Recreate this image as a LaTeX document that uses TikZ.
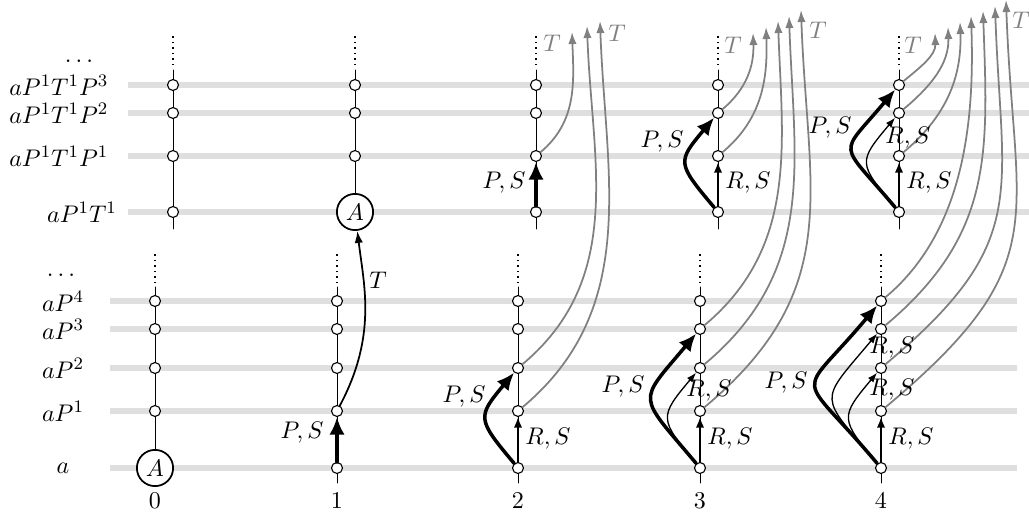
\documentclass[tikz,border=0pt]{standalone}
\usepackage{amsmath,amssymb}
\usetikzlibrary{arrows.meta}

\begin{document}
\begin{tikzpicture}[x=0.016cm,y=0.016cm,line cap=round,font=\fontsize{10.95}{13.6}\selectfont,
  band/.style={gray!25,line width=2.3pt,line cap=butt},
  col/.style={line width=0.45pt},
  dots/.style={dotted,line width=0.5pt,line cap=butt},
  pt/.style={circle,draw,fill=white,inner sep=0pt,minimum size=5pt,line width=0.5pt},
  anode/.style={circle,draw,fill=white,inner sep=0pt,minimum size=16.5pt,line width=0.8pt},
  ps/.style={line width=1.6pt,-{Latex[length=8pt,width=7pt]}},
  rs/.style={line width=0.8pt,-{Latex[length=4.8pt,width=3.8pt]}},
  rsc/.style={line width=0.6pt,-{Latex[length=4.5pt,width=3.2pt]}},
  tc/.style={line width=0.8pt,-{Latex[length=5.5pt,width=3.8pt]}},
  tt/.style={gray,line width=0.8pt,-{Latex[length=5.5pt,width=3.8pt]}},
  tl/.style={gray}]
\useasboundingbox (0,0) rectangle (1029,517);
% rows
\draw[band] (110,49) -- (1017,49);
\draw[band] (110,106) -- (1017,106);
\draw[band] (110,149) -- (1017,149);
\draw[band] (110,188) -- (1017,188);
\draw[band] (110,216) -- (1017,216);
\draw[band] (128,305) -- (1029,305);
\draw[band] (128,361) -- (1029,361);
\draw[band] (128,404) -- (1029,404);
\draw[band] (128,432) -- (1029,432);
% columns
\draw[col] (155,34) -- (155,230); \draw[dots] (155,234) -- (155,265);
\draw[col] (337,34) -- (337,230); \draw[dots] (337,234) -- (337,265);
\draw[col] (518,34) -- (518,230); \draw[dots] (518,234) -- (518,265);
\draw[col] (700,34) -- (700,230); \draw[dots] (700,234) -- (700,265);
\draw[col] (881,34) -- (881,230); \draw[dots] (881,234) -- (881,265);
\draw[col] (173,288) -- (173,447); \draw[dots] (173,452) -- (173,481);
\draw[col] (355,288) -- (355,447); \draw[dots] (355,452) -- (355,481);
\draw[col] (536,288) -- (536,447); \draw[dots] (536,452) -- (536,481);
\draw[col] (718,288) -- (718,447); \draw[dots] (718,452) -- (718,481);
\draw[col] (899,288) -- (899,447); \draw[dots] (899,452) -- (899,481);
% row and column labels
\node (la) at (63,49) {$a$};
\node (lp1) at (63,106) {$aP^1$};
\node (lp2) at (63,149) {$aP^2$};
\node (lp3) at (63,188) {$aP^3$};
\node (lp4) at (63,216) {$aP^4$};
\node (ld) at (63,242) {$\dots$};
\node (lt) at (82,305) {$aP^1T^1$};
\node[anchor=east] (ltp1) at (116,361) {$aP^1T^1P^1$};
\node[anchor=east] (ltp2) at (116,404) {$aP^1T^1P^2$};
\node[anchor=east] (ltp3) at (116,432) {$aP^1T^1P^3$};
\node (ltd) at (81,456) {$\dots$};
\node (n0) at (155,16) {$0$};
\node (n1) at (337,16) {$1$};
\node (n2) at (518,16) {$2$};
\node (n3) at (700,16) {$3$};
\node (n4) at (881,16) {$4$};
% bottom states
\node[anode] (b00) at (155,49) {$A$};
\node[pt] (b01) at (155,106) {}; \node[pt] (b02) at (155,149) {};
\node[pt] (b03) at (155,188) {}; \node[pt] (b04) at (155,216) {};
\node[pt] (b10) at (337,49) {}; \node[pt] (b11) at (337,106) {}; \node[pt] (b12) at (337,149) {};
\node[pt] (b13) at (337,188) {}; \node[pt] (b14) at (337,216) {};
\node[pt] (b20) at (518,49) {}; \node[pt] (b21) at (518,106) {}; \node[pt] (b22) at (518,149) {};
\node[pt] (b23) at (518,188) {}; \node[pt] (b24) at (518,216) {};
\node[pt] (b30) at (700,49) {}; \node[pt] (b31) at (700,106) {}; \node[pt] (b32) at (700,149) {};
\node[pt] (b33) at (700,188) {}; \node[pt] (b34) at (700,216) {};
\node[pt] (b40) at (881,49) {}; \node[pt] (b41) at (881,106) {}; \node[pt] (b42) at (881,149) {};
\node[pt] (b43) at (881,188) {}; \node[pt] (b44) at (881,216) {};
% top states
\node[pt] (t00) at (173,305) {}; \node[pt] (t01) at (173,361) {};
\node[pt] (t02) at (173,404) {}; \node[pt] (t03) at (173,432) {};
\node[anode] (t10) at (355,305) {$A$}; \node[pt] (t11) at (355,361) {};
\node[pt] (t12) at (355,404) {}; \node[pt] (t13) at (355,432) {};
\node[pt] (t20) at (536,305) {}; \node[pt] (t21) at (536,361) {};
\node[pt] (t22) at (536,404) {}; \node[pt] (t23) at (536,432) {};
\node[pt] (t30) at (718,305) {}; \node[pt] (t31) at (718,361) {};
\node[pt] (t32) at (718,404) {}; \node[pt] (t33) at (718,432) {};
\node[pt] (t40) at (899,305) {}; \node[pt] (t41) at (899,361) {};
\node[pt] (t42) at (899,404) {}; \node[pt] (t43) at (899,432) {};
% T ends
\coordinate (g20) at (572,485); \coordinate (g21) at (587,491); \coordinate (g22) at (600,496);
\coordinate (g30) at (753,484); \coordinate (g31) at (766,490); \coordinate (g32) at (778,496);
\coordinate (g33) at (789,501); \coordinate (g34) at (801,507);
\coordinate (g40) at (935,484); \coordinate (g41) at (948,490); \coordinate (g42) at (960,495);
\coordinate (g43) at (971,501); \coordinate (g44) at (983,506); \coordinate (g45) at (995,511);
\coordinate (g46) at (1006,517);
% step 1
\draw[ps] (b10) -- (b11);
\draw[tc] (b11) .. controls +(62:85) and +(-83:75) .. (t10);
\node (ps1) at (302,84) {$P,S$};
\node (tl1) at (378,237) {$T$};
% step 2
\draw[rs] (b20) -- (b21);
\draw[ps] (b20) .. controls +(130:64) and +(-130:64) .. (b22);
\draw[ps] (t20) -- (t21);
\draw[tt] (t21) to[out=40,in=-88] (g20);
\draw[tt] (b22) to[out=40,in=-88] (g21);
\draw[tt] (b21) to[out=40,in=-88] (g22);
\node (rs2) at (548,78) {$R,S$};
\node (ps2) at (464,120) {$P,S$};
\node (ps2t) at (504,334) {$P,S$};
\node[tl] (tl2a) at (552,474) {$T$};
\node[tl] (tl2b) at (617,484) {$T$};
% step 3
\draw[rs] (b30) -- (b31);
\draw[rsc] (b30) .. controls +(130:64) and +(-130:64) .. (b32);
\draw[ps] (b30) .. controls +(130:98) and +(-130:98) .. (b33);
\draw[rs] (t30) -- (t31);
\draw[ps] (t30) .. controls +(130:64) and +(-130:64) .. (t32);
\draw[tt] (t32) to[out=40,in=-88] (g30);
\draw[tt] (t31) to[out=40,in=-88] (g31);
\draw[tt] (b33) to[out=40,in=-88] (g32);
\draw[tt] (b32) to[out=40,in=-88,looseness=1.05] (g33);
\draw[tt] (b31) to[out=40,in=-88,looseness=1.15] (g34);
\node (rs3) at (730,78) {$R,S$};
\node (rs3b) at (709,126) {$R,S$};
\node (ps3) at (623,130) {$P,S$};
\node (rs3t) at (748,334) {$R,S$};
\node (ps3t) at (662,375) {$P,S$};
\node[tl] (tl3a) at (733,472) {$T$};
\node[tl] (tl3b) at (818,487) {$T$};
% step 4
\draw[rs] (b40) -- (b41);
\draw[rsc] (b40) .. controls +(130:64) and +(-130:64) .. (b42);
\draw[rsc] (b40) .. controls +(130:98) and +(-130:98) .. (b43);
\draw[ps] (b40) .. controls +(130:133) and +(-130:133) .. (b44);
\draw[rs] (t40) -- (t41);
\draw[rsc] (t40) .. controls +(130:64) and +(-130:64) .. (t42);
\draw[ps] (t40) .. controls +(130:95) and +(-130:95) .. (t43);
\draw[tt] (t43) to[out=40,in=-88] (g40);
\draw[tt] (t42) to[out=40,in=-88] (g41);
\draw[tt] (t41) to[out=40,in=-88] (g42);
\draw[tt] (b44) to[out=40,in=-88,looseness=0.9] (g43);
\draw[tt] (b43) to[out=40,in=-88,looseness=1.1] (g44);
\draw[tt] (b42) to[out=40,in=-88,looseness=1.3] (g45);
\draw[tt] (b41) to[out=40,in=-88,looseness=1.35] (g46);
\node (rs4) at (911,78) {$R,S$};
\node (rs4b) at (892,127) {$R,S$};
\node (rs4c) at (892,169) {$R,S$};
\node (ps4) at (786,134) {$P,S$};
\node (rs4t) at (929,334) {$R,S$};
\node (rs4tb) at (908,379) {$R,S$};
\node (ps4t) at (830,389) {$P,S$};
\node[tl] (tl4a) at (913,472) {$T$};
\node[tl] (tl4b) at (1021,497) {$T$};
\end{tikzpicture}
\end{document}
